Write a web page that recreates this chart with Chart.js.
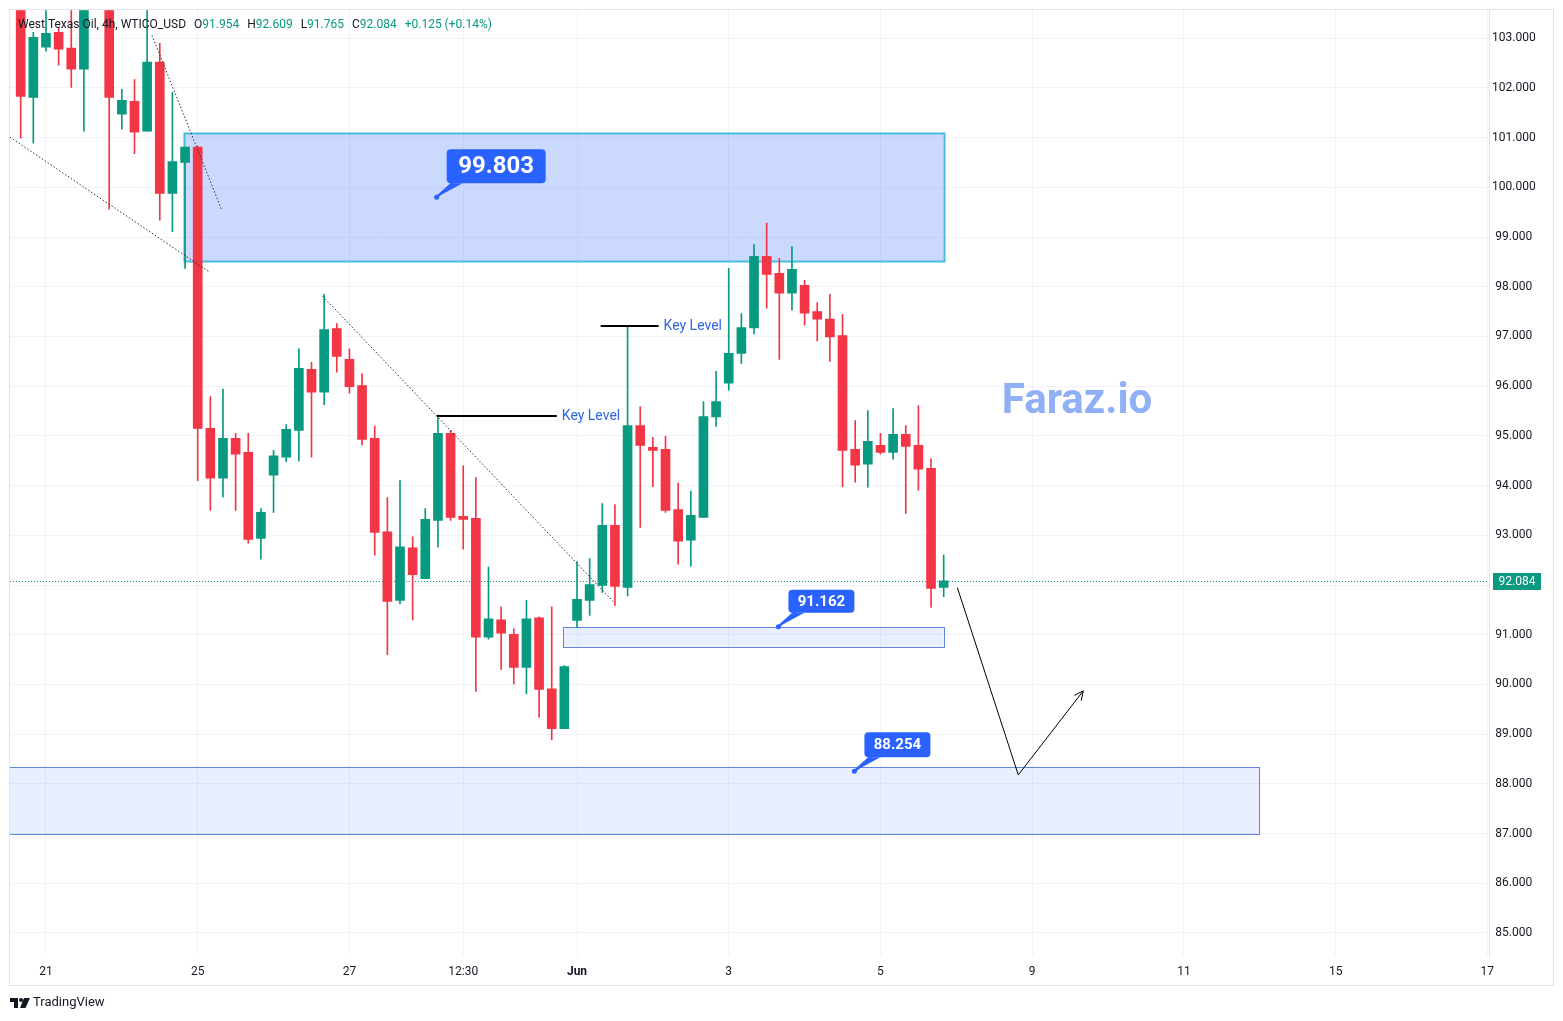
<!DOCTYPE html>
<html>
<head>
<meta charset="utf-8">
<title>West Texas Oil 4h</title>
<script src="https://cdn.jsdelivr.net/npm/chart.js@4.4.1/dist/chart.umd.min.js"></script>
<style>
    html, body { margin: 0; padding: 0; background: #ffffff; }
    #wrap { width: 1563px; height: 1021px; }
</style>
</head>
<body>
<div id="wrap"><canvas id="chart" width="1563" height="1021"></canvas></div>
<script>
// 4h candles, one entry per bar (null = bar above the visible range)
var openP  = [103.9, 101.81, 102.82, 103.12, 102.80, 102.38, null, 103.9, 101.47, 101.73,
              101.13, 102.52, 99.88, 100.50, 100.81, 95.15, 94.15, 94.95, 94.67, 92.94,
              94.21, 94.57, 95.11, 96.34, 95.88, 97.16, 96.54, 96.01, 94.95, 93.07,
              91.69, 92.75, 92.13, 93.30, 95.05, 93.38, 93.34, 90.95, 91.30, 91.01,
              90.34, 91.34, 89.91, 89.11, 91.29, 91.69, 91.99, 93.20, 91.95, 95.21,
              94.77, 94.73, 93.52, 92.90, 93.36, 95.38, 96.06, 96.66, 97.17, 98.61,
              98.27, 97.87, 98.03, 97.50, 97.35, 97.02, 94.73, 94.43, 94.81, 94.67,
              95.03, 94.81, 94.35, 91.954];
var highP  = [104.1, 103.12, 103.9, 103.22, 103.7, 104.0, null, 104.1, 101.97, 102.17,
              103.6, 102.90, 101.91, 100.81, 100.83, 95.79, 95.94, 95.05, 95.05, 93.54,
              94.71, 95.23, 96.75, 96.48, 97.85, 97.26, 96.75, 96.25, 95.20, 93.76,
              94.10, 92.97, 93.54, 95.42, 95.11, 94.40, 94.16, 92.36, 91.56, 91.12,
              91.69, 91.36, 91.56, 90.38, 92.47, 92.53, 93.64, 93.62, 97.20, 95.59,
              94.97, 94.99, 94.05, 93.89, 95.69, 96.30, 98.37, 97.46, 98.85, 99.28,
              98.57, 98.81, 98.13, 97.68, 97.85, 97.44, 95.31, 95.51, 95.05, 95.55,
              95.21, 95.61, 94.54, 92.609];
var lowP   = [100.99, 100.89, 102.74, 102.46, 102.01, 101.13, null, 99.56, 101.17, 100.68,
              101.13, 99.34, 99.11, 98.37, 94.10, 93.50, 93.77, 93.50, 92.84, 92.52,
              93.46, 94.48, 94.49, 94.57, 95.63, 96.28, 95.86, 94.82, 92.60, 90.60,
              91.62, 91.30, 92.13, 92.76, 93.30, 92.72, 89.86, 90.91, 90.30, 90.01,
              89.81, 89.34, 88.89, 89.11, 91.15, 91.39, 91.85, 91.59, 91.78, 93.16,
              93.98, 93.46, 92.42, 92.38, 93.36, 95.19, 95.92, 96.46, 97.05, 97.57,
              96.54, 97.53, 97.23, 96.91, 96.50, 93.98, 94.07, 93.97, 94.63, 94.53,
              93.44, 93.91, 91.55, 91.765];
var closeP = [101.83, 103.02, 103.10, 102.78, 102.38, 103.8, null, 101.81, 101.75, 101.11,
              102.52, 99.88, 100.52, 100.81, 95.15, 94.15, 94.95, 94.63, 92.92, 93.46,
              94.60, 95.13, 96.36, 95.88, 97.14, 96.60, 95.99, 94.93, 93.06, 91.67,
              92.77, 92.21, 93.32, 95.05, 93.36, 93.32, 90.95, 91.32, 91.03, 90.34,
              91.32, 89.90, 89.11, 90.36, 91.71, 92.01, 93.20, 91.97, 95.21, 94.81,
              94.71, 93.50, 92.88, 93.40, 95.39, 95.69, 96.66, 97.18, 98.61, 98.25,
              97.87, 98.35, 97.47, 97.35, 96.99, 94.71, 94.41, 94.89, 94.67, 95.03,
              94.79, 94.33, 91.93, 92.084];

var dayTickIndex  = [2, 14, 26, 35, 44, 56, 68, 80, 92, 104, 116];
var dayTickLabels = ['21', '25', '27', '12:30', 'Jun', '3', '5', '9', '11', '15', '17'];
var priceTicks = [85, 86, 87, 88, 89, 90, 91, 92, 93, 94, 95, 96, 97, 98, 99, 100, 101, 102, 103];
var lastPrice = 92.084;
var lastChange = 0.125;
var lastChangePct = 0.14;

// drawn zones (bar index range, price range)
var zoneFrom   = [12.9, 42.9, -5];
var zoneTo     = [73.0, 73.0, 97.96];
var zoneTop    = [101.09, 91.16, 88.34];
var zoneBottom = [98.51, 90.76, 86.99];

// price callouts
var calloutIndex = [32.9, 59.93, 65.94];
var calloutPrice = [99.803, 91.162, 88.254];

// dotted trend lines [fromIndex, fromPrice, toIndex, toPrice]
var trendLines = [
    [-0.85, 101.01, 14.96, 98.29],
    [10.38, 103.06, 15.91, 99.54],
    [23.89, 97.81, 46.97, 91.64]
];

// key levels
var keyFrom  = [32.9, 45.87];
var keyTo    = [42.4, 50.45];
var keyPrice = [95.40, 97.22];

// projected path
var pathIndex = [74.08, 78.9, 84.04];
var pathPrice = [91.95, 88.18, 89.87];

var UP = '#089981', DOWN = '#f23645', TEXT = '#131722';
var FONT = 'Roboto, "Noto Sans", sans-serif';

var bodies = [], wicks = [], colors = [];
openP.forEach(function(o, i) {
    if (o === null) return;
    bodies.push({x: i, y: [o, closeP[i]]});
    wicks.push({x: i, y: [lowP[i], highP[i]]});
    colors.push(closeP[i] >= o ? UP : DOWN);
});

var overlay = {
    id: 'overlay',
    beforeDatasetsDraw: function(chart) {
        var ctx = chart.ctx, xs = chart.scales.x, ys = chart.scales.y, a = chart.chartArea;
        var fills = ['rgba(41, 98, 255, 0.24)', 'rgba(41, 98, 255, 0.10)', 'rgba(41, 98, 255, 0.10)'];
        var borders = ['#45bfd9', '#5f85de', '#5f85de'];
        var widths = [2, 1, 1];
        ctx.save();
        ctx.beginPath();
        ctx.rect(a.left, a.top, a.right - a.left, a.bottom - a.top);
        ctx.clip();
        zoneFrom.forEach(function(f, i) {
            var x1 = xs.getPixelForValue(f), x2 = xs.getPixelForValue(zoneTo[i]);
            var y1 = ys.getPixelForValue(zoneTop[i]), y2 = ys.getPixelForValue(zoneBottom[i]);
            ctx.fillStyle = fills[i];
            ctx.fillRect(x1, y1, x2 - x1, y2 - y1);
            ctx.strokeStyle = borders[i];
            ctx.lineWidth = widths[i];
            ctx.strokeRect(Math.round(x1) + 0.5, Math.round(y1) + 0.5, Math.round(x2 - x1), Math.round(y2 - y1));
        });

        // last price line
        var py = Math.round(ys.getPixelForValue(lastPrice)) + 0.5;
        ctx.strokeStyle = UP;
        ctx.lineWidth = 1;
        ctx.setLineDash([1, 2]);
        ctx.beginPath();
        ctx.moveTo(a.left, py);
        ctx.lineTo(a.right, py);
        ctx.stroke();
        ctx.restore();
    },
    afterDatasetsDraw: function(chart) {
        var ctx = chart.ctx, xs = chart.scales.x, ys = chart.scales.y, a = chart.chartArea;
        var px = function(v) { return xs.getPixelForValue(v); };
        var py = function(v) { return ys.getPixelForValue(v); };
        ctx.save();
        ctx.beginPath();
        ctx.rect(a.left, a.top, a.right - a.left, a.bottom - a.top);
        ctx.clip();

        // trend lines
        ctx.strokeStyle = '#2a2e39';
        ctx.lineWidth = 1;
        ctx.setLineDash([1.5, 2]);
        trendLines.forEach(function(t) {
            ctx.beginPath();
            ctx.moveTo(px(t[0]), py(t[1]));
            ctx.lineTo(px(t[2]), py(t[3]));
            ctx.stroke();
        });
        ctx.setLineDash([]);

        // key levels
        ctx.font = '14px ' + FONT;
        ctx.textBaseline = 'middle';
        ctx.textAlign = 'left';
        keyFrom.forEach(function(f, i) {
            var y = Math.round(py(keyPrice[i]));
            ctx.strokeStyle = '#000000';
            ctx.lineWidth = 2;
            ctx.beginPath();
            ctx.moveTo(px(f), y);
            ctx.lineTo(px(keyTo[i]), y);
            ctx.stroke();
            ctx.fillStyle = '#2f66e8';
            ctx.fillText('Key Level', px(keyTo[i]) + 5, y);
        });

        // projected path with arrow head
        ctx.strokeStyle = '#000000';
        ctx.lineWidth = 1;
        ctx.beginPath();
        pathIndex.forEach(function(v, i) {
            if (i === 0) ctx.moveTo(px(v), py(pathPrice[i]));
            else ctx.lineTo(px(v), py(pathPrice[i]));
        });
        ctx.stroke();
        var n = pathIndex.length;
        var ex = px(pathIndex[n - 1]), ey = py(pathPrice[n - 1]);
        var ang = Math.atan2(ey - py(pathPrice[n - 2]), ex - px(pathIndex[n - 2]));
        ctx.beginPath();
        ctx.moveTo(ex - 10 * Math.cos(ang - 0.45), ey - 10 * Math.sin(ang - 0.45));
        ctx.lineTo(ex, ey);
        ctx.lineTo(ex - 10 * Math.cos(ang + 0.45), ey - 10 * Math.sin(ang + 0.45));
        ctx.stroke();

        // callouts
        var boxW = [99, 66, 66], boxH = [34, 23, 25], fs = [24, 15, 15];
        calloutIndex.forEach(function(v, i) {
            var ax = px(v), ay = py(calloutPrice[i]);
            var bx = ax + 10, by = ay - 14 - boxH[i];
            ctx.fillStyle = '#2962ff';
            ctx.beginPath();
            ctx.moveTo(ax, ay);
            ctx.lineTo(bx + 4, by + boxH[i]);
            ctx.lineTo(bx + 16, by + boxH[i]);
            ctx.closePath();
            ctx.fill();
            ctx.lineWidth = 2.5;
            ctx.strokeStyle = '#2962ff';
            ctx.beginPath();
            ctx.moveTo(ax, ay);
            ctx.lineTo(bx + 8, by + boxH[i] - 2);
            ctx.stroke();
            ctx.beginPath();
            ctx.roundRect(bx, by, boxW[i], boxH[i], 4);
            ctx.fill();
            ctx.beginPath();
            ctx.arc(ax, ay, 2.5, 0, Math.PI * 2);
            ctx.fill();
            ctx.fillStyle = '#ffffff';
            ctx.font = 'bold ' + fs[i] + 'px ' + FONT;
            ctx.textAlign = 'center';
            ctx.textBaseline = 'middle';
            ctx.fillText(calloutPrice[i].toFixed(3), bx + boxW[i] / 2, by + boxH[i] / 2 + 1);
        });

        // watermark
        ctx.fillStyle = '#8fb0f7';
        ctx.font = 'bold 42px ' + FONT;
        ctx.textAlign = 'left';
        ctx.textBaseline = 'middle';
        ctx.fillText('Faraz.io', px(77.6), py(95.67));
        ctx.restore();
    },
    afterDraw: function(chart) {
        var ctx = chart.ctx, ys = chart.scales.y, a = chart.chartArea;
        ctx.save();
        // frame
        ctx.strokeStyle = '#e0e3eb';
        ctx.lineWidth = 1;
        ctx.strokeRect(9.5, 9.5, 1544, 976);

        // last price tag on the axis
        var y = Math.round(ys.getPixelForValue(lastPrice));
        ctx.fillStyle = UP;
        ctx.fillRect(a.right + 4, y - 8, 48, 17);
        ctx.fillStyle = '#ffffff';
        ctx.font = '12px ' + FONT;
        ctx.textAlign = 'center';
        ctx.textBaseline = 'middle';
        ctx.fillText(lastPrice.toFixed(3), a.right + 28, y + 1);

        // legend line
        ctx.textAlign = 'left';
        ctx.font = '12px ' + FONT;
        var x = 18, ly = 25;
        ctx.fillStyle = TEXT;
        ctx.fillText('West Texas Oil, 4h, WTICO_USD', x, ly);
        x += ctx.measureText('West Texas Oil, 4h, WTICO_USD').width + 8;
        var last = openP.length - 1;
        var ohlc = [['O', openP[last]], ['H', highP[last]], ['L', lowP[last]], ['C', closeP[last]]];
        ohlc.forEach(function(p) {
            ctx.fillStyle = TEXT;
            ctx.fillText(p[0], x, ly);
            x += ctx.measureText(p[0]).width;
            ctx.fillStyle = UP;
            var s = p[1].toFixed(3);
            ctx.fillText(s, x, ly);
            x += ctx.measureText(s).width + 8;
        });
        ctx.fillText('+' + lastChange.toFixed(3) + ' (+' + lastChangePct.toFixed(2) + '%)', x, ly);

        // TradingView mark
        ctx.fillStyle = TEXT;
        ctx.fillRect(10, 998, 8, 4);
        ctx.fillRect(14, 998, 4, 10);
        ctx.beginPath();
        ctx.arc(21, 1000, 2, 0, Math.PI * 2);
        ctx.fill();
        ctx.beginPath();
        ctx.moveTo(24, 998);
        ctx.lineTo(30, 998);
        ctx.lineTo(25.5, 1008);
        ctx.lineTo(20, 1008);
        ctx.closePath();
        ctx.fill();
        ctx.font = '13px ' + FONT;
        ctx.fillText('TradingView', 33, 1003);
        ctx.restore();
    }
};

var chart = new Chart(document.getElementById('chart'), {
    type: 'bar',
    data: {
        datasets: [{
            data: bodies,
            backgroundColor: colors,
            barThickness: 9,
            minBarLength: 1,
            grouped: false,
            borderWidth: 0
        }, {
            data: wicks,
            backgroundColor: colors,
            barThickness: 1,
            grouped: false,
            borderWidth: 0
        }]
    },
    options: {
        responsive: false,
        animation: false,
        devicePixelRatio: 1,
        layout: { padding: { left: 10, right: 10, top: 10, bottom: 36 } },
        plugins: { legend: { display: false }, tooltip: { enabled: false } },
        scales: {
            x: {
                type: 'linear',
                min: -0.846,
                max: 116.13,
                offset: false,
                afterBuildTicks: function(axis) {
                    axis.ticks = dayTickIndex.map(function(v) { return {value: v}; });
                },
                afterFit: function(axis) { axis.height = 29; },
                grid: { color: '#f0f3fa', drawTicks: false, offset: false },
                border: { display: false },
                ticks: {
                    autoSkip: false,
                    maxRotation: 0,
                    padding: 9,
                    color: TEXT,
                    font: function(c) {
                        var lbl = c.tick ? dayTickLabels[dayTickIndex.indexOf(c.tick.value)] : '';
                        return { family: FONT, size: 12, weight: lbl === 'Jun' ? 'bold' : 'normal' };
                    },
                    callback: function(v) {
                        var k = dayTickIndex.indexOf(v);
                        return k >= 0 ? dayTickLabels[k] : '';
                    }
                }
            },
            y: {
                position: 'right',
                min: 84.537,
                max: 103.564,
                afterBuildTicks: function(axis) {
                    axis.ticks = priceTicks.map(function(v) { return {value: v}; });
                },
                afterFit: function(axis) { axis.width = 64; },
                grid: { color: '#f0f3fa', drawTicks: false },
                border: { display: true, color: '#e0e3eb' },
                ticks: {
                    crossAlign: 'center',
                    color: TEXT,
                    font: { family: FONT, size: 12 },
                    callback: function(v) { return Number(v).toFixed(3); }
                }
            }
        }
    },
    plugins: [overlay]
});
</script>
</body>
</html>
